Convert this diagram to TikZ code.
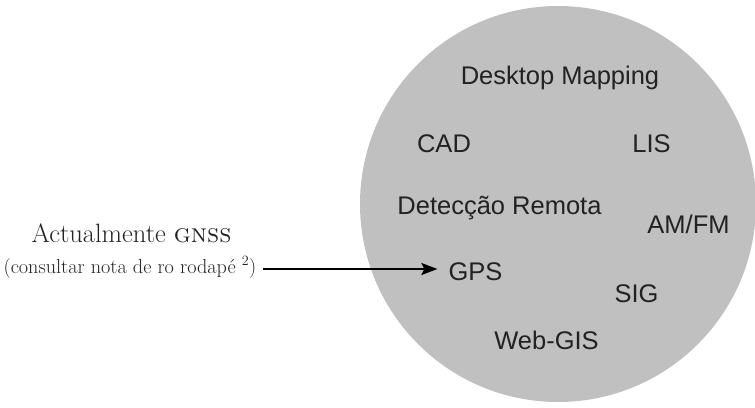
\documentclass[tikz,border=0pt]{standalone}
\usepackage{fontspec}
\newfontfamily\sansf{Liberation Sans}
\usetikzlibrary{arrows.meta}
\definecolor{discgray}{RGB}{192,192,192}
\definecolor{txtdark}{RGB}{34,34,34}
\tikzset{
  term/.style={anchor=base, inner sep=0pt, text=txtdark, font=\sansf\fontsize{25.5}{30}\selectfont},
  serifbig/.style={anchor=base, inner sep=0pt, text=txtdark, font=\fontsize{26.5}{30}\selectfont},
  serifsmall/.style={anchor=base, inner sep=0pt, text=txtdark, font=\fontsize{20.2}{24}\selectfont},
  arr/.style={line width=2pt, -{Stealth[length=16pt,width=12pt,inset=3pt]}}
}
\begin{document}
\begin{tikzpicture}[x=1pt,y=-1pt]
\useasboundingbox (0,0) rectangle (755,407);
\fill[discgray] (558,204) circle (198);
\node[term] (dm) at (560,84) {Desktop Mapping};
\node[term] (cad) at (444,152) {CAD};
\node[term] (lis) at (651.5,152) {LIS};
\node[term] (dr) at (499.5,214) {Detecção Remota};
\node[term] (amfm) at (688.5,233) {AM/FM};
\node[term] (gps) at (475.5,280) {GPS};
\node[term] (sig) at (636.5,302) {SIG};
\node[term] (web) at (546.5,349) {Web-GIS};
\node[serifbig] (act) at (131.5,242) {Actualmente \textsc{gnss}};
\node[serifsmall] (note) at (130,273) {(consultar nota de ro rodapé \textsuperscript{2})};
\coordinate (src) at (263,269);
\draw[arr] (src) -- ([xshift=-11pt]src -| gps.west);
\end{tikzpicture}
\end{document}
